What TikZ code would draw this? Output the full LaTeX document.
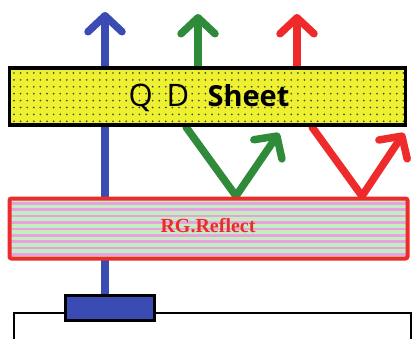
\documentclass[tikz,border=0pt]{standalone}
\usepackage{fontspec}
\setmainfont{Open Sans}
\newfontfamily\rgfont{Liberation Serif}
\usetikzlibrary{arrows.meta}
\definecolor{rayblue}{HTML}{3A4CB4}
\definecolor{raygreen}{HTML}{2F8A3A}
\definecolor{rayred}{HTML}{EE2A2A}
\definecolor{qdyellow}{HTML}{EEF032}
\definecolor{stripegreen}{HTML}{C4EDC0}
\definecolor{stripepink}{HTML}{E8A2E2}
\definecolor{dotcol}{HTML}{4A4A20}
\tikzset{
  ray/.style={line width=7.5pt, line cap=round, line join=miter,
    -{Straight Barb[length=16pt,width=34pt,round]}},
  layer/.style={rectangle, inner sep=0pt, outer sep=0pt},
}
\begin{document}
\begin{tikzpicture}[x=1pt,y=-1pt]
\useasboundingbox (0,0) rectangle (414,339);
% coordinates
\coordinate (bsrc) at (105,296);
\coordinate (btip) at (105,12);
\coordinate (gtop) at (198,67);
\coordinate (gtip) at (198,14);
\coordinate (rtop) at (297,67);
\coordinate (rtip) at (297,14);
\coordinate (gin) at (186,127);
\coordinate (gbot) at (236,196);
\coordinate (gout) at (279,133);
\coordinate (rin) at (312,127);
\coordinate (rbot) at (362,196);
\coordinate (rout) at (404,133);
% rays
\draw[ray, rayblue] (bsrc) -- (btip);
\draw[ray, raygreen] (gtop) -- (gtip);
\draw[ray, rayred] (rtop) -- (rtip);
\draw[ray, raygreen] (gin) -- (gbot) -- (gout);
\draw[ray, rayred] (rin) -- (rbot) -- (rout);
% QD sheet
\node[layer, fill=qdyellow,
  minimum width=396pt, minimum height=57pt] (qd) at (207.5,96.5) {};
\foreach \i in {0,...,59}{
  \foreach \j in {0,...,7}{
    \fill[dotcol] (14+\i*6.6, 73+\j*6.9) circle (0.95pt);
  }
}
\draw[black, line width=3.5pt] (qd.north west) rectangle (qd.south east);
\node[anchor=base west, font=\fontsize{31}{31}\selectfont] (qq) at (125,107) {Q};
\node[anchor=base west, font=\fontsize{31}{31}\selectfont] (dd) at (163,107) {D};
\node[anchor=base west, font=\fontsize{29}{29}\selectfont\bfseries] (sheet) at (204,107) {Sheet};
% RG reflect
\node[layer, fill=stripegreen,
  minimum width=398pt, minimum height=60pt] (rg) at (208.5,228.5) {};
\foreach \k in {0,...,8}{
  \fill[stripepink] (11,202+\k*6.4) rectangle (406,204.6+\k*6.4);
}
\draw[rayred, line width=4pt, rounded corners=2pt] (rg.north west) rectangle (rg.south east);
\node[font=\rgfont\fontsize{20}{20}\selectfont\bfseries, text=rayred] (rgt) at (208,226) {RG.Reflect};
% base
\draw[black, line width=2.5pt, fill=white] (14,345) |- (411,313) -- (411,345);
\node[layer, draw=black, line width=2.5pt, fill=rayblue,
  minimum width=89pt, minimum height=25pt] (led) at (110,308) {};
\end{tikzpicture}
\end{document}
